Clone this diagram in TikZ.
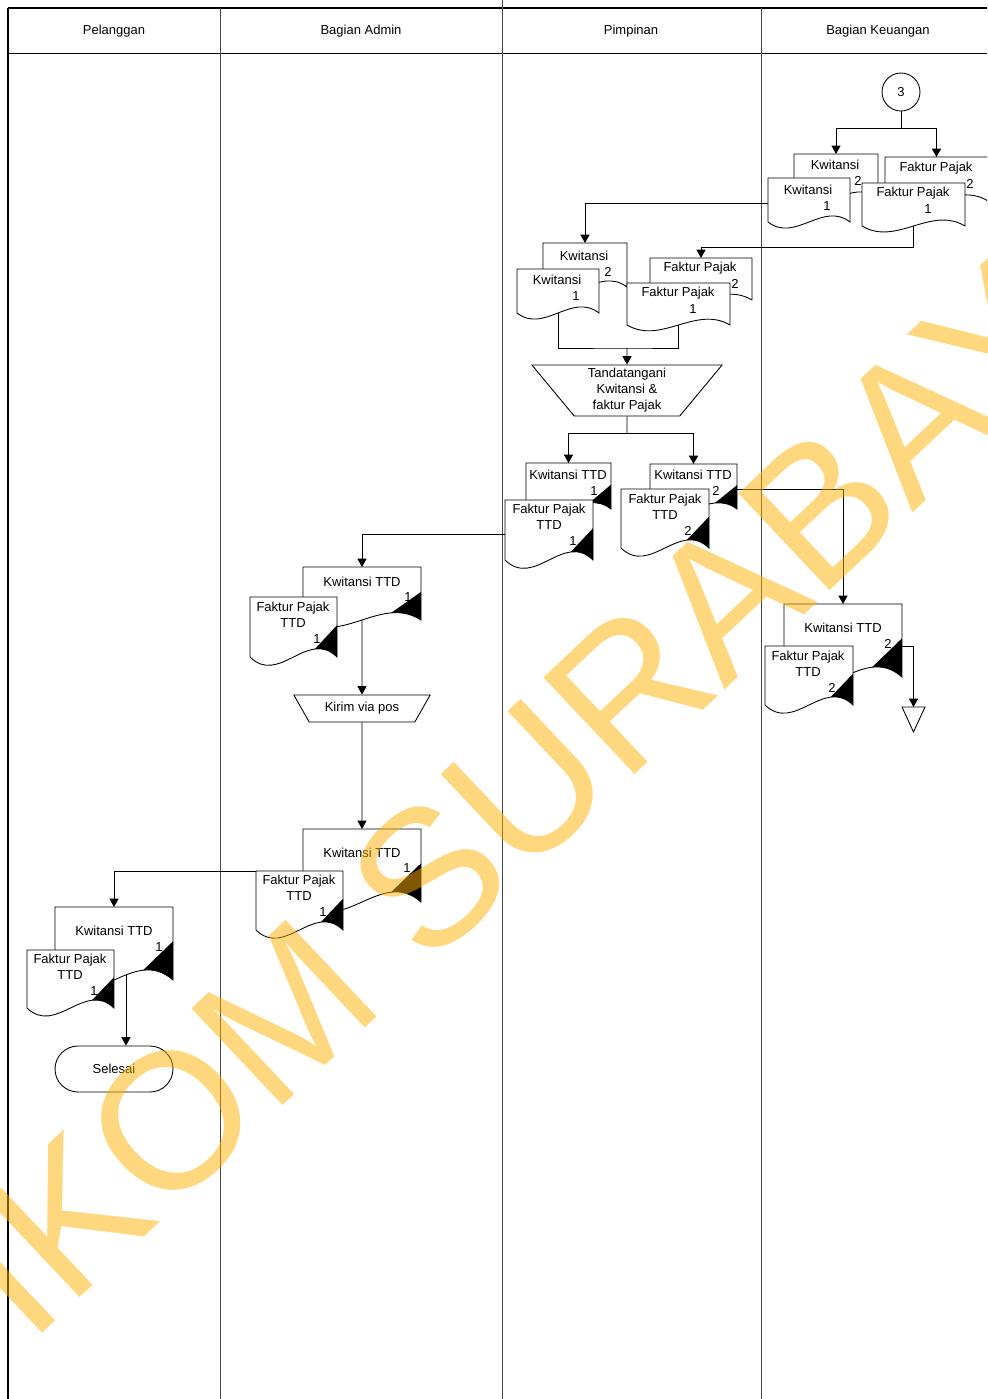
\documentclass[tikz,border=0pt]{standalone}
\usepackage{fontspec}
\setmainfont{Liberation Sans}
\usetikzlibrary{shapes.geometric, arrows.meta, calc}
\definecolor{wmorange}{RGB}{255,175,0}
\definecolor{lanegray}{RGB}{70,70,70}

\tikzset{
  docline/.style={draw=black, fill=white},
  docbox/.style={rectangle, inner sep=0pt, outer sep=0pt},
  lbl/.style={inner sep=0pt, align=center},
  manop/.style={trapezium, shape border rotate=180, trapezium stretches=true, draw, fill=white, align=center, inner sep=1pt},
  flow/.style={-{Triangle[length=4.8pt,width=5.2pt]}},
  lane/.style={draw=lanegray}
}

% document shape: name, x, y, width, height (pixel units)
\newcommand{\dok}[5]{%
  \filldraw[docline] (#2,#3) -- (#2+#4,#3) -- (#2+#4,#3+#5)
    .. controls (#2+2*#4/3,#3+0.52*#5) and (#2+#4/3,#3+1.48*#5) .. (#2,#3+#5) -- cycle;
  \node[docbox, minimum width=#4*0.02cm, minimum height=#5*0.02cm] (#1) at (#2+#4/2,#3+#5/2) {};
}
% signed document, black corner
\newcommand{\dokttd}[5]{%
  \dok{#1}{#2}{#3}{#4}{#5}
  \begin{scope}
    \clip (#2,#3) -- (#2+#4,#3) -- (#2+#4,#3+#5)
      .. controls (#2+2*#4/3,#3+0.52*#5) and (#2+#4/3,#3+1.48*#5) .. (#2,#3+#5) -- cycle;
    \fill (#2+#4,#3+0.47*#5) -- (#2+#4/2,#3+1.25*#5) -- (#2+#4,#3+1.25*#5) -- cycle;
  \end{scope}
}

\begin{document}
\begin{tikzpicture}[x=0.02cm, y=-0.02cm, line width=0.5pt, font=\fontsize{7.4}{9.1}\selectfont]
\useasboundingbox (0,0) rectangle (987,1399);
\clip (0,0) rectangle (987,1399);

% swimlanes
\draw[line width=1.1pt] (8,8) -- (987,8);
\draw (8,53) -- (987,53);
\draw[line width=0.9pt] (8,8) -- (8,1399);
\draw[lane] (220,8) -- (220,1399);
\draw[lane] (502,0) -- (502,1399);
\draw[lane] (761,8) -- (761,1399);
\node (hpel) at (114,31.5) {Pelanggan};
\node (hadm) at (361,31.5) {Bagian Admin};
\node (hpim) at (631,31.5) {Pimpinan};
\node (hkeu) at (878,31.5) {Bagian Keuangan};

% Bagian Keuangan
\node[draw, circle, minimum size=0.76cm, inner sep=0pt] (con3) at (901,92) {3};
\dok{kwk2}{794}{154}{84}{44}
\node[lbl] (kwk2l) at (835,165) {Kwitansi};
\node[lbl] (kwk2n) at (858,181) {2};
\dok{fpk2}{885}{157}{103}{44}
\node[lbl] (fpk2l) at (936,168) {Faktur Pajak};
\node[lbl] (fpk2n) at (970,184) {2};
\dok{kwk1}{768}{178}{82}{44}
\node[lbl] (kwk1l) at (808,190) {Kwitansi};
\node[lbl] (kwk1n) at (827,206) {1};
\dok{fpk1}{862}{183}{103}{43}
\node[lbl] (fpk1l) at (913,193) {Faktur Pajak};
\node[lbl] (fpk1n) at (928,209) {1};

% Pimpinan
\dok{kwp2}{543}{243}{84}{44}
\node[lbl] (kwp2l) at (584,256) {Kwitansi};
\node[lbl] (kwp2n) at (608,272) {2};
\dok{fpp2}{650}{258}{102}{42}
\node[lbl] (fpp2l) at (700,268) {Faktur Pajak};
\node[lbl] (fpp2n) at (735,284) {2};
\dok{kwp1}{517}{269}{82}{44}
\node[lbl] (kwp1l) at (557,280) {Kwitansi};
\node[lbl] (kwp1n) at (576,296) {1};
\dok{fpp1}{627}{283}{103}{42}
\node[lbl] (fpp1l) at (678,293) {Faktur Pajak};
\node[lbl] (fpp1n) at (693,309) {1};

\node[manop, minimum width=3.82cm, minimum height=1.02cm, trapezium angle=55.5] (ttdp) at (627,390.5) {Tandatangani\\Kwitansi \&\\faktur Pajak};

\dokttd{kwtp1}{526}{463}{85}{46}
\node[lbl] (kwtp1l) at (568,475) {Kwitansi TTD};
\node[lbl] (kwtp1n) at (594,491) {1};
\dokttd{kwtp2}{650}{464}{87}{45}
\node[lbl] (kwtp2l) at (693,475) {Kwitansi TTD};
\node[lbl] (kwtp2n) at (716,491) {2};
\dokttd{fptp1}{505}{500}{88}{60}
\node[lbl] (fptp1l) at (549,517) {Faktur Pajak\\TTD};
\node[lbl] (fptp1n) at (573,541) {1};
\dokttd{fptp2}{621}{489}{88}{59}
\node[lbl] (fptp2l) at (665,507) {Faktur Pajak\\TTD};
\node[lbl] (fptp2n) at (688,531) {2};

% Bagian Admin
\dokttd{kwta1}{303}{567}{118}{53}
\node[lbl] (kwta1l) at (362,582) {Kwitansi TTD};
\node[lbl] (kwta1n) at (408,597) {1};
\dokttd{fpta1}{250}{597}{87}{60}
\node[lbl] (fpta1l) at (293,615) {Faktur Pajak\\TTD};
\node[lbl] (fpta1n) at (317,639) {1};
\node[manop, minimum width=2.74cm, minimum height=0.54cm, trapezium angle=54.2] (kirim) at (362,708.5) {Kirim via pos};
\dokttd{kwta2}{303}{829}{118}{73}
\node[lbl] (kwta2l) at (362,853) {Kwitansi TTD};
\node[lbl] (kwta2n) at (407,868) {1};
\dokttd{fpta2}{256}{871}{87}{59}
\node[lbl] (fpta2l) at (299,888) {Faktur Pajak\\TTD};
\node[lbl] (fpta2n) at (323,912) {1};

% Pelanggan
\dokttd{kwtpl}{55}{907}{118}{73}
\node[lbl] (kwtpll) at (114,931) {Kwitansi TTD};
\node[lbl] (kwtpln) at (159,947) {1};
\dokttd{fptpl}{27}{950}{87}{58}
\node[lbl] (fptpll) at (70,967) {Faktur Pajak\\TTD};
\node[lbl] (fptpln) at (94,991) {1};
\node[draw, rectangle, rounded corners=0.46cm, minimum width=2.36cm, minimum height=0.92cm] (selesai) at (114,1069) {Selesai};

% Bagian Keuangan, arsip
\dokttd{kwtk}{784}{604}{118}{73}
\node[lbl] (kwtkl) at (843,628) {Kwitansi TTD};
\node[lbl] (kwtkn) at (888,644) {2};
\dokttd{fptk}{765}{646}{88}{59}
\node[lbl] (fptkl) at (808,664) {Faktur Pajak\\TTD};
\node[lbl] (fptkn) at (832,688) {2};
\draw[fill=white] (902,707) -- (925,707) -- (913.5,732) -- cycle;
\coordinate (offk) at (913.5,707);

% connectors
\coordinate (j1) at (901,128);
\draw (con3) -- (j1);
\draw[flow] (j1) -| (kwk2.north);
\draw[flow] (j1) -| (fpk2.north);
\draw[flow] ($(kwk1.west)+(0,3)$) -| (kwp2.north);
\draw[flow] (fpk1.south) -- ++(0,21) -| (fpp2.north);
\coordinate (j3) at (627,348);
\draw (kwp1.south) |- (j3) -| (fpp1.south);
\draw[flow] (j3) -- (ttdp.north);
\coordinate (j4) at (627,433);
\draw (ttdp.south) -- (j4);
\draw[flow] (j4) -| (kwtp1.north);
\draw[flow] (j4) -| (kwtp2.north);
\draw[flow] ($(fptp1.west)+(0,4)$) -| (kwta1.north);
\draw[flow] ($(kwtp2.east)+(0,3)$) -| (kwtk.north);
\draw[flow] (kwta1.south) -- (kirim.north);
\draw[flow] (kirim.south) -- (kwta2.north);
\draw[flow] (fpta2.north west) -| (kwtpl.north);
\draw[flow] ($(kwtpl.south)+(12,-5)$) -- ($(selesai.north)+(12,0)$);
\draw[flow] ($(kwtk.east)+(0,6)$) -| (offk);

% watermark
\node[rotate=43.3, anchor=base west, inner sep=0pt, text=wmorange, text opacity=0.5, font=\fontsize{110}{110}\selectfont] (wm) at (-150.6,1515) {STIKOM SURABAYA};
\end{tikzpicture}
\end{document}
